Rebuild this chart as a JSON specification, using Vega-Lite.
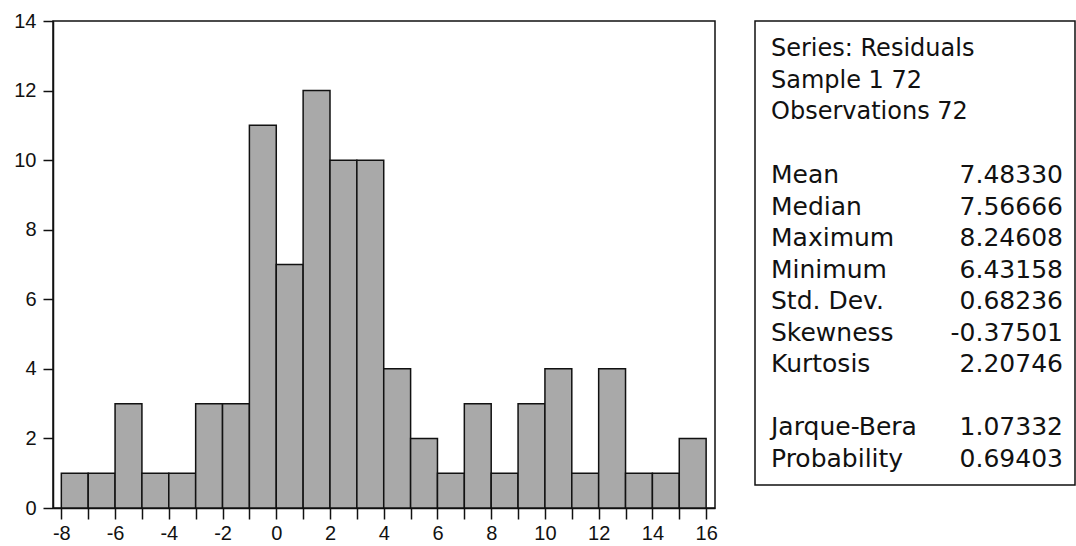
{
  "$schema": "https://vega.github.io/schema/vega-lite/v6.json",
  "padding": {"left": 13, "top": 10, "right": 0, "bottom": 0},
  "background": "white",
  "bounds": "flush",
  "spacing": 40,
  "config": {
    "view": {"stroke": "#111", "strokeWidth": 1.5},
    "font": "Liberation Sans"
  },
  "datasets": {
    "hist": [
      {"bin_start": -8, "bin_end": -7, "count": 1},
      {"bin_start": -7, "bin_end": -6, "count": 1},
      {"bin_start": -6, "bin_end": -5, "count": 3},
      {"bin_start": -5, "bin_end": -4, "count": 1},
      {"bin_start": -4, "bin_end": -3, "count": 1},
      {"bin_start": -3, "bin_end": -2, "count": 3},
      {"bin_start": -2, "bin_end": -1, "count": 3},
      {"bin_start": -1, "bin_end": 0, "count": 11},
      {"bin_start": 0, "bin_end": 1, "count": 7},
      {"bin_start": 1, "bin_end": 2, "count": 12},
      {"bin_start": 2, "bin_end": 3, "count": 10},
      {"bin_start": 3, "bin_end": 4, "count": 10},
      {"bin_start": 4, "bin_end": 5, "count": 4},
      {"bin_start": 5, "bin_end": 6, "count": 2},
      {"bin_start": 6, "bin_end": 7, "count": 1},
      {"bin_start": 7, "bin_end": 8, "count": 3},
      {"bin_start": 8, "bin_end": 9, "count": 1},
      {"bin_start": 9, "bin_end": 10, "count": 3},
      {"bin_start": 10, "bin_end": 11, "count": 4},
      {"bin_start": 11, "bin_end": 12, "count": 1},
      {"bin_start": 12, "bin_end": 13, "count": 4},
      {"bin_start": 13, "bin_end": 14, "count": 1},
      {"bin_start": 14, "bin_end": 15, "count": 1},
      {"bin_start": 15, "bin_end": 16, "count": 2}
    ],
    "header": [
      {"line": 0, "text": "Series: Residuals"},
      {"line": 1, "text": "Sample 1 72"},
      {"line": 2, "text": "Observations 72"}
    ],
    "stats": [
      {"line": 4, "stat": "Mean", "value": "7.48330"},
      {"line": 5, "stat": "Median", "value": "7.56666"},
      {"line": 6, "stat": "Maximum", "value": "8.24608"},
      {"line": 7, "stat": "Minimum", "value": "6.43158"},
      {"line": 8, "stat": "Std. Dev.", "value": "0.68236"},
      {"line": 9, "stat": "Skewness", "value": "-0.37501"},
      {"line": 10, "stat": "Kurtosis", "value": "2.20746"},
      {"line": 12, "stat": "Jarque-Bera", "value": "1.07332"},
      {"line": 13, "stat": "Probability", "value": "0.69403"}
    ]
  },
  "hconcat": [
    {
      "width": 662,
      "height": 487,
      "data": {"name": "hist"},
      "mark": {"type": "bar", "fill": "#a9a9a9", "stroke": "#111", "strokeWidth": 1.5},
      "encoding": {
        "x": {
          "field": "bin_start",
          "type": "quantitative",
          "scale": {"domain": [-8.31, 16.33], "nice": false, "zero": false},
          "axis": {
            "title": null,
            "values": [-8, -7, -6, -5, -4, -3, -2, -1, 0, 1, 2, 3, 4, 5, 6, 7, 8, 9, 10, 11, 12, 13, 14, 15, 16],
            "labelExpr": "datum.value % 2 == 0 ? '' + datum.value : ''",
            "grid": false,
            "tickSize": 11,
            "tickWidth": 1.5,
            "tickColor": "#111",
            "domainColor": "#111",
            "domainWidth": 1.5,
            "labelFontSize": 20,
            "labelColor": "#111",
            "labelPadding": 4,
            "labelFlush": false,
            "labelOverlap": false,
            "labelBound": false
          }
        },
        "x2": {"field": "bin_end"},
        "y": {
          "field": "count",
          "type": "quantitative",
          "scale": {"domain": [0, 14], "nice": false},
          "axis": {
            "title": null,
            "values": [0, 2, 4, 6, 8, 10, 12, 14],
            "grid": false,
            "tickSize": 10,
            "tickWidth": 1.5,
            "tickColor": "#111",
            "domainColor": "#111",
            "domainWidth": 1.5,
            "labelFontSize": 20,
            "labelColor": "#111",
            "labelPadding": 7,
            "labelOverlap": false,
            "labelBound": false
          }
        },
        "y2": {"datum": 0}
      }
    },
    {
      "width": 320,
      "height": 464,
      "layer": [
        {
          "data": {"name": "header"},
          "mark": {"type": "text", "align": "left", "baseline": "middle", "font": "DejaVu Sans", "fontSize": 24, "color": "#111"},
          "encoding": {
            "x": {"datum": 0, "type": "quantitative", "scale": {"domain": [-0.0548, 1.0411], "nice": false, "zero": false}, "axis": null},
            "y": {"field": "line", "type": "quantitative", "scale": {"domain": [-0.889, 13.841], "reverse": true, "nice": false, "zero": false}, "axis": null},
            "text": {"field": "text"}
          }
        },
        {
          "data": {"name": "stats"},
          "mark": {"type": "text", "align": "left", "baseline": "middle", "font": "DejaVu Sans", "fontSize": 25, "color": "#111"},
          "encoding": {
            "x": {"datum": 0, "type": "quantitative", "scale": {"domain": [-0.0548, 1.0411], "nice": false, "zero": false}, "axis": null},
            "y": {"field": "line", "type": "quantitative", "scale": {"domain": [-0.889, 13.841], "reverse": true, "nice": false, "zero": false}, "axis": null},
            "text": {"field": "stat"}
          }
        },
        {
          "data": {"name": "stats"},
          "mark": {"type": "text", "align": "right", "baseline": "middle", "font": "DejaVu Sans", "fontSize": 25, "color": "#111"},
          "encoding": {
            "x": {"datum": 1, "type": "quantitative", "scale": {"domain": [-0.0548, 1.0411], "nice": false, "zero": false}, "axis": null},
            "y": {"field": "line", "type": "quantitative", "scale": {"domain": [-0.889, 13.841], "reverse": true, "nice": false, "zero": false}, "axis": null},
            "text": {"field": "value"}
          }
        }
      ]
    }
  ]
}
